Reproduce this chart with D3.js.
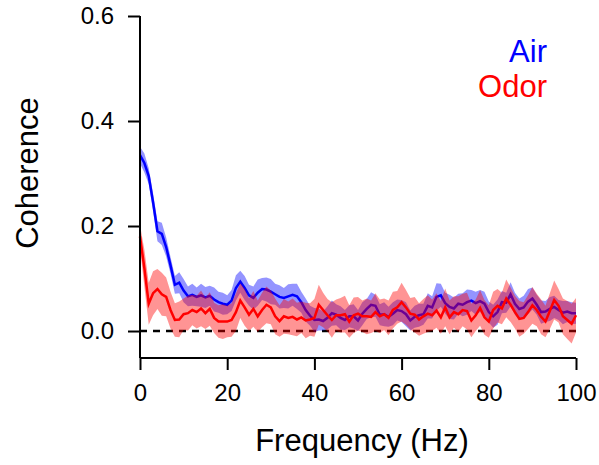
<!DOCTYPE html>
<html>
<head>
<meta charset="utf-8">
<script src="https://cdn.jsdelivr.net/npm/d3@7"></script>
<style>
  html, body { margin: 0; padding: 0; background: #fff; }
  text { font-family: "Liberation Sans", Arial, sans-serif; }
</style>
</head>
<body>
<svg id="chart" width="599" height="465"></svg>
<script>
// Frequency grid (Hz)
const freq = d3.range(0, 101, 1);

// Mean coherence, Air
const airMean = [
  0.335, 0.320, 0.295, 0.245, 0.190, 0.185, 0.160, 0.125, 0.088, 0.092,
  0.077, 0.066, 0.069, 0.065, 0.068, 0.064, 0.067, 0.060, 0.055, 0.052,
  0.050, 0.058, 0.082, 0.094, 0.082, 0.068, 0.063, 0.073, 0.080, 0.079,
  0.075, 0.070, 0.065, 0.063, 0.066, 0.069, 0.066, 0.055, 0.040, 0.029,
  0.021, 0.022, 0.019, 0.025, 0.034, 0.031, 0.025, 0.021, 0.028, 0.028,
  0.020, 0.033, 0.042, 0.050, 0.048, 0.031, 0.032, 0.027, 0.033, 0.040,
  0.038, 0.032, 0.020, 0.027, 0.030, 0.032, 0.048, 0.045, 0.065, 0.068,
  0.053, 0.046, 0.043, 0.052, 0.050, 0.055, 0.058, 0.053, 0.057, 0.052,
  0.036, 0.028, 0.036, 0.055, 0.054, 0.070, 0.052, 0.042, 0.045, 0.056,
  0.062, 0.050, 0.036, 0.037, 0.042, 0.046, 0.040, 0.035, 0.037, 0.034,
  0.034
];
// Error half-width, Air
const airErr = [
  0.016, 0.018, 0.015, 0.017, 0.019, 0.021, 0.018, 0.016, 0.017, 0.020,
  0.022, 0.019, 0.021, 0.018, 0.022, 0.020, 0.019, 0.023, 0.020, 0.021,
  0.018, 0.020, 0.024, 0.021, 0.023, 0.020, 0.022, 0.025, 0.021, 0.023,
  0.024, 0.020, 0.022, 0.019, 0.023, 0.021, 0.024, 0.020, 0.022, 0.019,
  0.023, 0.021, 0.018, 0.022, 0.024, 0.020, 0.022, 0.019, 0.021, 0.023,
  0.020, 0.022, 0.019, 0.024, 0.021, 0.020, 0.023, 0.019, 0.022, 0.020,
  0.021, 0.023, 0.019, 0.021, 0.022, 0.020, 0.024, 0.021, 0.026, 0.022,
  0.020, 0.023, 0.021, 0.019, 0.022, 0.024, 0.020, 0.022, 0.021, 0.023,
  0.020, 0.022, 0.024, 0.021, 0.019, 0.023, 0.021, 0.020, 0.022, 0.024,
  0.021, 0.019, 0.022, 0.020, 0.023, 0.021, 0.019, 0.022, 0.020, 0.021,
  0.020
];

// Mean coherence, Odor
const odorMean = [
  0.180, 0.120, 0.052, 0.072, 0.080, 0.070, 0.065, 0.040, 0.021, 0.022,
  0.032, 0.034, 0.040, 0.036, 0.043, 0.034, 0.042, 0.025, 0.018, 0.018,
  0.018, 0.021, 0.036, 0.058, 0.045, 0.031, 0.042, 0.028, 0.040, 0.050,
  0.045, 0.028, 0.019, 0.028, 0.025, 0.027, 0.022, 0.026, 0.020, 0.022,
  0.025, 0.050, 0.040, 0.030, 0.021, 0.030, 0.030, 0.032, 0.018, 0.030,
  0.033, 0.028, 0.028, 0.027, 0.036, 0.028, 0.032, 0.025, 0.040, 0.045,
  0.055, 0.045, 0.033, 0.031, 0.022, 0.028, 0.033, 0.030, 0.039, 0.026,
  0.045, 0.026, 0.036, 0.032, 0.040, 0.038, 0.020, 0.030, 0.044, 0.026,
  0.018, 0.040, 0.048, 0.043, 0.062, 0.050, 0.036, 0.023, 0.025, 0.036,
  0.049, 0.040, 0.027, 0.018, 0.038, 0.059, 0.048, 0.028, 0.021, 0.014,
  0.030
];
// Error half-width, Odor
const odorErr = [
  0.022, 0.035, 0.040, 0.042, 0.038, 0.041, 0.037, 0.035, 0.032, 0.034,
  0.030, 0.033, 0.029, 0.031, 0.034, 0.030, 0.032, 0.029, 0.031, 0.033,
  0.030, 0.032, 0.036, 0.033, 0.035, 0.031, 0.034, 0.030, 0.033, 0.035,
  0.032, 0.034, 0.030, 0.033, 0.031, 0.035, 0.032, 0.030, 0.034, 0.031,
  0.036, 0.038, 0.033, 0.031, 0.034, 0.030, 0.033, 0.035, 0.031, 0.034,
  0.032, 0.030, 0.034, 0.031, 0.036, 0.032, 0.030, 0.033, 0.035, 0.031,
  0.037, 0.033, 0.030, 0.034, 0.031, 0.033, 0.035, 0.030, 0.033, 0.031,
  0.036, 0.032, 0.030, 0.034, 0.031, 0.035, 0.032, 0.030, 0.034, 0.033,
  0.031, 0.035, 0.032, 0.030, 0.036, 0.033, 0.031, 0.034, 0.030, 0.032,
  0.035, 0.031, 0.033, 0.030, 0.034, 0.037, 0.032, 0.034, 0.036, 0.038,
  0.033
];

const xTicks = [0, 20, 40, 60, 80, 100];
const yTicks = [0.0, 0.2, 0.4, 0.6];
const seriesNames = ["Air", "Odor"];

const svg = d3.select("#chart");
const x = d3.scaleLinear().domain([0, 100]).range([140, 576]);
const y = d3.scaleLinear().domain([-0.0514, 0.6]).range([358, 16]);

const air = freq.map((f, i) => ({ f, m: airMean[i], e: airErr[i] }));
const odor = freq.map((f, i) => ({ f, m: odorMean[i], e: odorErr[i] }));

const area = d3.area().x(d => x(d.f)).y0(d => y(d.m - d.e)).y1(d => y(d.m + d.e));
const line = d3.line().x(d => x(d.f)).y(d => y(d.m));

// Zero dashed line
svg.append("line")
  .attr("x1", x(0)).attr("x2", x(100)).attr("y1", y(0)).attr("y2", y(0))
  .attr("stroke", "#000").attr("stroke-width", 2.5).attr("stroke-dasharray", "7,6");

// Air band + line
svg.append("path").datum(air).attr("d", area)
  .attr("fill", "#0000ff").attr("fill-opacity", 0.42).attr("stroke", "none");
svg.append("path").datum(air).attr("d", line)
  .attr("fill", "none").attr("stroke", "#0000ff").attr("stroke-width", 2.5);

// Odor band + line
svg.append("path").datum(odor).attr("d", area)
  .attr("fill", "#ff0000").attr("fill-opacity", 0.42).attr("stroke", "none");
svg.append("path").datum(odor).attr("d", line)
  .attr("fill", "none").attr("stroke", "#ff0000").attr("stroke-width", 2.5);

// Axes
const xAxis = svg.append("g").attr("transform", "translate(0,358)")
  .call(d3.axisBottom(x).tickValues(xTicks).tickSize(12).tickPadding(14).tickFormat(d3.format("d")));
const yAxis = svg.append("g").attr("transform", "translate(140,0)")
  .call(d3.axisLeft(y).tickValues(yTicks).tickSize(12).tickPadding(14).tickFormat(d3.format(".1f")));

[xAxis, yAxis].forEach(g => {
  g.select(".domain").attr("stroke", "#000").attr("stroke-width", 2);
  g.selectAll(".tick line").attr("stroke", "#000").attr("stroke-width", 2);
  g.selectAll(".tick text").attr("fill", "#000")
    .style("font-family", '"Liberation Sans", Arial, sans-serif').style("font-size", "24px");
});
xAxis.select(".domain").attr("d", "M140,0H576");
yAxis.select(".domain").attr("d", "M0," + y(0.6) + "V" + 358);

// Axis titles
svg.append("text").attr("x", 362).attr("y", 451).attr("text-anchor", "middle")
  .style("font-size", "31px").attr("fill", "#000").text("Frequency (Hz)");
svg.append("text").attr("transform", "translate(38,173) rotate(-90)").attr("text-anchor", "middle")
  .style("font-size", "31px").attr("fill", "#000").text("Coherence");

// Legend
svg.append("text").attr("x", 547).attr("y", 62).attr("text-anchor", "end")
  .style("font-size", "31px").attr("fill", "#0000ff").text(seriesNames[0]);
svg.append("text").attr("x", 547).attr("y", 97).attr("text-anchor", "end")
  .style("font-size", "31px").attr("fill", "#ff0000").text(seriesNames[1]);
</script>
</body>
</html>
